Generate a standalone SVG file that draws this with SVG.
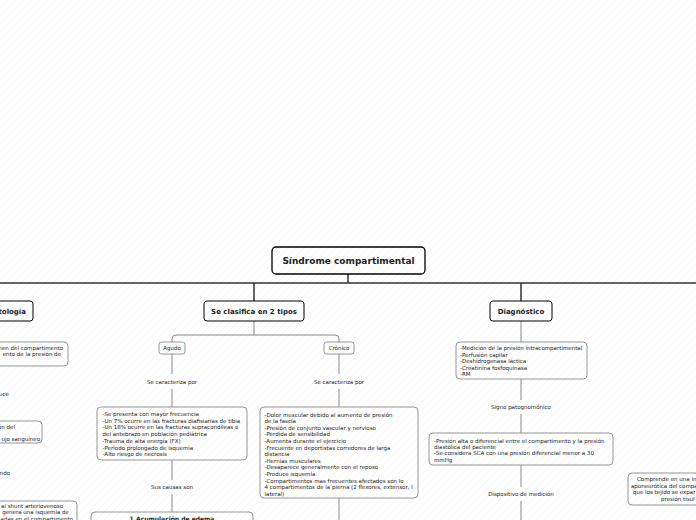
<svg xmlns="http://www.w3.org/2000/svg" width="696" height="520" viewBox="0 0 696 520">
<defs>
<pattern id="bg" width="8" height="8" patternUnits="userSpaceOnUse"><path d="M-1,1 L1,-1 M0,8 L8,0 M7,9 L9,7" stroke="#f3f3f3" stroke-width="1"/></pattern>
</defs>
<style>
.t{font-family:"DejaVu Sans",Verdana,sans-serif;fill:#222}
.s{font-size:5.5px}
.b{font-weight:bold}
.m{text-anchor:middle}
.e{text-anchor:end}
.main{fill:none;stroke:#000;stroke-width:1.3}
.sub{fill:none;stroke:#8a8a8a;stroke-width:0.9}
.c1{fill:none;stroke:#333;stroke-width:1.5}
.c2{fill:none;stroke:#8a8a8a;stroke-width:1}
</style>
<rect width="696" height="520" fill="#fff"/>
<rect width="696" height="520" fill="url(#bg)"/>

<g id="connectors">
<path class="c1" d="M348,274 V283 M-20,283 H700 M254,283 V301 M521,283 V301"/>
<path class="c2" d="M254,321 V335 M172,342 V339 Q172,335 176,335 H335 Q339,335 339,339 V342"/>
<path class="c2" d="M172,354 V374 M172,389 V407 M172,460 V480 M172,494 V512"/>
<path class="c2" d="M339,354 V374 M339,389 V407 M339,498 V520"/>
<path class="c2" d="M521,321 V342 M521,379 V400 M521,414 V433 M521,465 V487 M521,501 V520"/>
</g>

<g id="title">
<rect class="main" x="272" y="247" width="153" height="27" rx="4"/>
<text class="t b m" x="348.5" y="264" font-size="9">Síndrome compartimental</text>
</g>

<g id="fisiopatologia">
<rect class="main" style="stroke-width:1" x="-80" y="301" width="113" height="20" rx="3"/>
<text class="t b e" x="26" y="313.5" font-size="7">Fisiopatología</text>
</g>
<g id="fisio-1">
<rect class="sub" x="-80" y="342" width="148" height="24" rx="4"/>
<text class="t s e" x="63" y="349.5">men del compartimento</text>
<text class="t s e" x="61" y="356.3">ento de la presión de</text>
</g>
<g id="fisio-l1"><text class="t s e" x="9" y="396">uce</text></g>
<g id="fisio-2">
<rect class="sub" x="-80" y="421" width="122" height="22" rx="4"/>
<text class="t s e" x="15" y="429">ón del</text>
<text class="t s e" x="40" y="441">ujo sanguíneo</text>
</g>
<g id="fisio-l2"><text class="t s e" x="10" y="475">ndo</text></g>
<g id="fisio-3">
<rect class="sub" x="-80" y="501" width="157" height="30" rx="4"/>
<text class="t s e" x="63" y="507.5">al shunt arteriovenoso</text>
<text class="t s e" x="69" y="514">genera una isquemia de</text>
<text class="t s e" x="73" y="520.5">adas en el compartimento</text>
</g>

<g id="clasifica">
<rect class="main" style="stroke-width:1" x="204" y="301" width="100" height="20" rx="3"/>
<text class="t b m" x="254" y="313.5" font-size="7">Se clasifica en 2 tipos</text>
</g>

<g id="agudo">
<rect class="sub" x="159" y="342" width="26" height="12" rx="2.5"/>
<text class="t s m" x="172" y="350">Agudo</text>
</g>
<g id="agudo-label"><text class="t s m" x="172" y="383.5">Se caracteriza por</text></g>
<g id="agudo-det">
<rect class="sub" x="97" y="407" width="150" height="53" rx="4"/>
<text class="t s" x="102.5" y="416">-Se presenta con mayor frecuencia</text>
<text class="t s" x="102.5" y="422.7">-Un 7% ocurre en las fracturas diafisiarias de tibia</text>
<text class="t s" x="102.5" y="429.4">-Un 18% ocurre en las fracturas supracondíleas o</text>
<text class="t s" x="102.5" y="436.1">del antebrazo en población pediátrica</text>
<text class="t s" x="102.5" y="442.8">-Trauma de alta energía (FX)</text>
<text class="t s" x="102.5" y="449.5">-Periodo prolongado de isquemia</text>
<text class="t s" x="102.5" y="456.2">-Alto riesgo de necrosis</text>
</g>
<g id="agudo-label2"><text class="t s m" x="172" y="489">Sus causas son</text></g>
<g id="edema">
<rect class="sub" x="91" y="512" width="162" height="20" rx="4"/>
<text class="t b m" x="172" y="520.5" font-size="6">1.Acumulación de edema</text>
</g>

<g id="cronico">
<rect class="sub" x="324" y="342" width="30" height="12" rx="2.5"/>
<text class="t s m" x="339" y="350">Crónico</text>
</g>
<g id="cronico-label"><text class="t s m" x="339" y="383.5">Se caracteriza por</text></g>
<g id="cronico-det">
<rect class="sub" x="260" y="407" width="158" height="91" rx="4"/>
<text class="t s" x="264.5" y="416.5">-Dolor muscular debido al aumento de presión</text>
<text class="t s" x="264.5" y="423.1">de la fascia</text>
<text class="t s" x="264.5" y="429.7">-Presión de conjunto vascular y nervioso</text>
<text class="t s" x="264.5" y="436.3">-Perdida de sensibilidad</text>
<text class="t s" x="264.5" y="442.9">-Aumenta durante el ejercicio</text>
<text class="t s" x="264.5" y="449.5">-Frecuente en deportistas corredores de larga</text>
<text class="t s" x="264.5" y="456.1">distancia</text>
<text class="t s" x="264.5" y="462.7">-Hernias musculares</text>
<text class="t s" x="264.5" y="469.3">-Desaparece generalmente con el reposo</text>
<text class="t s" x="264.5" y="475.9">-Produce isquemia</text>
<text class="t s" x="264.5" y="482.5">-Compartimentos mas frecuentes afectados son lo</text>
<text class="t s" x="264.5" y="489.1">4 compartimentos de la pierna (2 flexores, extensor, l</text>
<text class="t s" x="264.5" y="495.7">lateral)</text>
</g>

<g id="diagnostico">
<rect class="main" style="stroke-width:1" x="490" y="301" width="62" height="20" rx="3"/>
<text class="t b m" x="521" y="313.5" font-size="7">Diagnóstico</text>
</g>
<g id="diag-det">
<rect class="sub" x="456" y="342" width="131" height="37" rx="4"/>
<text class="t s" x="460" y="350.3">-Medición de la presión intracompartimental</text>
<text class="t s" x="460" y="356.7">-Perfusión capilar</text>
<text class="t s" x="460" y="363.1">-Deshidrogenasa láctica</text>
<text class="t s" x="460" y="369.5">-Creatinina fosfoquinasa</text>
<text class="t s" x="460" y="375.9">-RM</text>
</g>
<g id="diag-label"><text class="t s m" x="521" y="409">Signo patognomónico</text></g>
<g id="presion">
<rect class="sub" x="429" y="433" width="184" height="32" rx="4"/>
<text class="t s" x="434" y="442.7">-Presión alta o diferencial entre el compartimento y la presión</text>
<text class="t s" x="434" y="449">diastólica del paciente</text>
<text class="t s" x="434" y="455.3">-Se considera SCA con una presión diferencial menor a 30</text>
<text class="t s" x="434" y="461.6">mmHg</text>
</g>
<g id="diag-label2"><text class="t s m" x="521" y="496">Dispositivo de medición</text></g>

<g id="comprende">
<rect class="sub" x="628" y="473" width="100" height="32" rx="4"/>
<text class="t s" x="637" y="481">Comprende en una in</text>
<text class="t s" x="631" y="487.6">aponeurótica del compa</text>
<text class="t s" x="633" y="494.2">que los tejido se expar</text>
<text class="t s" x="661" y="500.8">presión tisul</text>
</g>
</svg>
